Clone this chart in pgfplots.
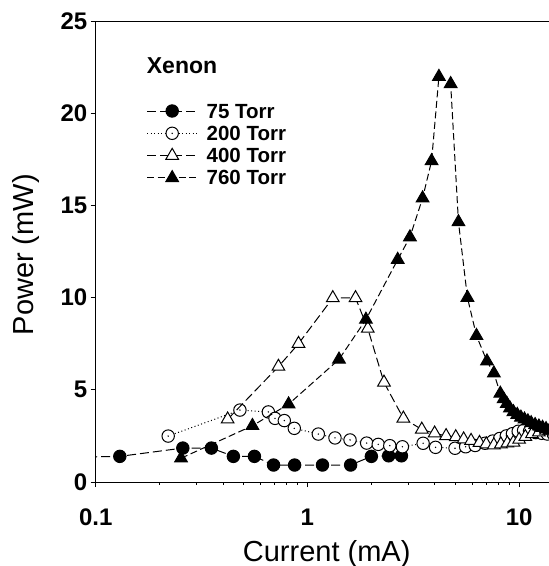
\documentclass[border=0pt]{standalone}
\usepackage{fontspec}
\setmainfont{Liberation Sans}
\usepackage{pgfplots}
\usepackage{pgfplotstable}
\pgfplotsset{compat=1.18}

\pgfdeclareplotmark{odot}{%
  \pgfpathcircle{\pgfpointorigin}{\pgfplotmarksize}\pgfusepathqfillstroke
  \begin{pgfscope}%
  \pgfsetfillcolor{black}%
  \pgfpathcircle{\pgfpointorigin}{0.8pt}\pgfusepathqfill
  \end{pgfscope}}

\pgfplotstableread{
x y
0.08 1.35
0.130 1.39
0.258 1.84
0.352 1.84
0.447 1.39
0.562 1.39
0.692 0.92
0.870 0.92
1.178 0.92
1.60 0.92
2.005 1.39
2.42 1.42
2.78 1.42
}\torrA

\pgfplotstableread{
x y
0.220 2.49
0.480 3.90
0.654 3.80
0.703 3.45
0.778 3.33
0.867 2.91
1.126 2.60
1.35 2.39
1.59 2.28
1.905 2.11
2.16 2.04
2.45 1.97
2.81 1.91
3.52 2.10
4.03 1.88
4.98 1.83
5.59 1.91
6.2 1.98
6.9 2.10
7.5 2.22
8.1 2.36
8.7 2.50
9.3 2.62
9.9 2.75
10.5 2.80
11.2 2.75
12.0 2.68
12.8 2.64
13.6 2.60
14.5 2.60
}\torrB

\pgfplotstableread{
x y
0.420 3.40
0.730 6.26
0.908 7.50
1.318 9.98
1.688 9.98
1.929 8.32
2.30 5.40
2.84 3.45
3.47 2.85
3.99 2.64
4.52 2.50
5.02 2.44
5.47 2.32
5.93 2.24
6.5 2.13
7.0 2.05
7.6 2.00
8.2 2.05
8.8 2.10
9.4 2.15
10.0 2.30
10.7 2.45
11.5 2.60
12.4 2.70
13.4 2.80
14.5 2.85
}\torrC

\pgfplotstableread{
x y
0.253 1.29
0.55 3.05
0.815 4.22
1.41 6.65
1.89 8.81
2.67 12.06
3.05 13.28
3.50 15.39
3.86 17.41
4.18 21.98
4.75 21.59
5.17 14.10
5.70 10.00
6.29 7.93
7.05 6.55
7.6 5.90
8.15 4.80
8.45 4.50
8.75 4.25
9.05 4.00
9.4 3.80
9.8 3.65
10.2 3.50
10.6 3.40
11.0 3.30
11.4 3.20
11.9 3.10
12.4 3.02
12.9 2.95
13.4 2.88
13.9 2.80
14.8 2.70
}\torrD

\begin{document}
\begin{tikzpicture}
\begin{axis}[
  name=ax,
  scale only axis,
  width=460.7pt, height=461pt,
  xmode=log, xmin=0.1, xmax=15,
  ymin=0, ymax=25,
  xtick={0.1,1,10}, xticklabels={0.1,1,10},
  ytick={0,5,10,15,20,25},
  tick align=outside, tick pos=left,
  major tick length=5pt, minor tick length=2.5pt,
  tick style={line width=1pt, black},
  axis line style={line width=1pt},
  ticklabel style={font=\bfseries\fontsize{24}{24}\selectfont},
  xticklabel style={yshift=-18pt},
  /pgf/number format/assume math mode=true,
  clip mode=individual,
  legend style={at={(rel axis cs:0.1107,0.8243)}, anchor=north west,
    draw=none, fill=none, inner sep=0pt, outer sep=0pt, row sep=4.3pt,
    font=\bfseries\fontsize{20.5}{20.5}\selectfont,
    cells={anchor=west},
    nodes={inner sep=0pt, text height=16pt, text depth=2pt},
    /tikz/every odd column/.append style={column sep=9pt}},
  legend image code/.code={\draw[mark repeat=2,mark phase=2,#1] plot coordinates {(0pt,0pt) (25pt,0pt) (50pt,0pt)};},
]
\addplot[black, line width=1pt, dash pattern=on 9pt off 4pt, mark=*, mark size=6.2pt, mark options={solid, fill=black}] table {\torrA};
\addlegendentry{75 Torr}
\addplot[black, line width=1pt, dash pattern=on 1pt off 2.5pt, mark=odot, mark size=6.2pt, mark options={solid, fill=white}] table {\torrB};
\addlegendentry{200 Torr}
\addplot[black, line width=1pt, dash pattern=on 9pt off 4pt, mark=triangle*, mark size=7.3pt, mark options={solid, fill=white}] table {\torrC};
\addlegendentry{400 Torr}
\addplot[black, line width=1pt, dash pattern=on 7pt off 3.5pt, mark=triangle*, mark size=7.3pt, mark options={solid, fill=black}] table {\torrD};
\addlegendentry{760 Torr}
\node[anchor=base west, inner sep=0pt, font=\bfseries\fontsize{23}{23}\selectfont] at (rel axis cs:0.1107,0.8866) {Xenon};
\node[anchor=base, inner sep=0pt, font=\fontsize{29}{29}\selectfont] at (rel axis cs:0.5014,-0.1714) {Current (mA)};
\node[anchor=base, rotate=90, inner sep=0pt, font=\fontsize{29}{29}\selectfont] at (rel axis cs:-0.1355,0.493) {Power (mW)};
\end{axis}
\pgfresetboundingbox
\path (ax.south west) ++(-95.7pt,-84pt) rectangle ++(549pt,566pt);
\end{tikzpicture}
\end{document}
